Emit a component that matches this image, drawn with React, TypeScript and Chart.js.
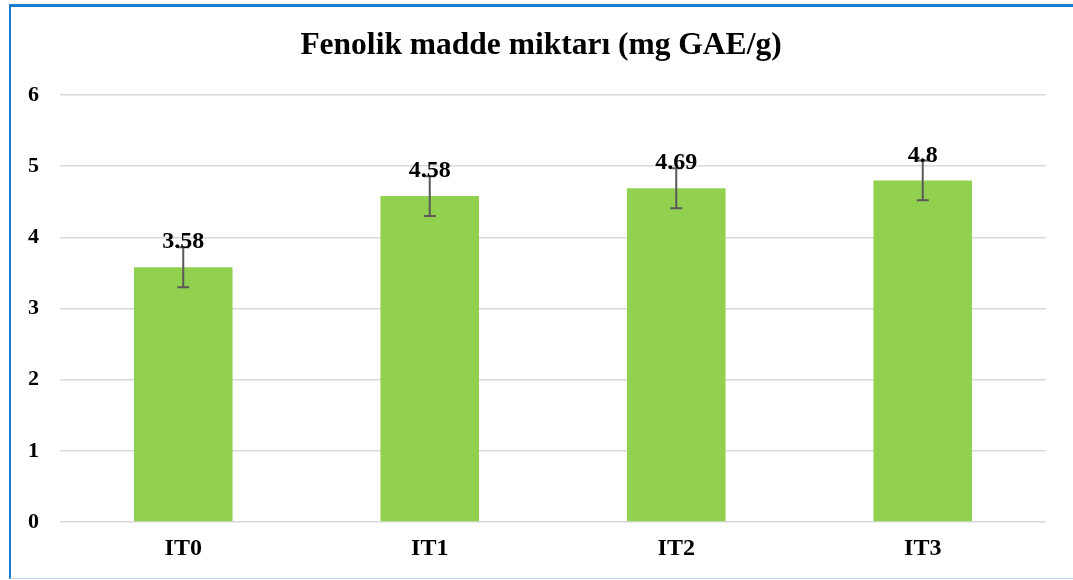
import React, { useEffect, useRef } from "react";
import { Chart, registerables } from "chart.js";

Chart.register(...registerables);

const categories = ["IT0", "IT1", "IT2", "IT3"];
const values = [3.58, 4.58, 4.69, 4.8];
const errors = [0.28, 0.28, 0.28, 0.28];
const valueLabels = ["3.58", "4.58", "4.69", "4.8"];
const yTicks = [0, 1, 2, 3, 4, 5, 6];
const title = "Fenolik madde miktarı (mg GAE/g)";

const FONT = "'Liberation Serif', 'Times New Roman', serif";

const overlayPlugin = {
  id: "overlay",
  afterDatasetsDraw(chart: any) {
    const ctx = chart.ctx;
    const meta = chart.getDatasetMeta(0);
    const y = chart.scales.y;
    ctx.save();
    meta.data.forEach((bar: any, i: number) => {
      const x = bar.x;
      const top = y.getPixelForValue(values[i] + errors[i]);
      const bot = y.getPixelForValue(values[i] - errors[i]);
      ctx.strokeStyle = "#595959";
      ctx.lineWidth = 2;
      ctx.beginPath();
      ctx.moveTo(x, top);
      ctx.lineTo(x, bot);
      ctx.moveTo(x - 6, top);
      ctx.lineTo(x + 6, top);
      ctx.moveTo(x - 6, bot);
      ctx.lineTo(x + 6, bot);
      ctx.stroke();
    });
    ctx.fillStyle = "#000";
    ctx.font = `bold 24px ${FONT}`;
    ctx.textAlign = "center";
    ctx.textBaseline = "middle";
    meta.data.forEach((bar: any, i: number) => {
      const py = y.getPixelForValue(values[i]);
      ctx.fillText(valueLabels[i], bar.x, py - 25);
    });
    // title, centred on the full frame
    ctx.font = `bold 31.5px ${FONT}`;
    ctx.fillText(title, 541, 46);
    ctx.restore();
  },
};

export default function App() {
  const ref = useRef<HTMLCanvasElement>(null);
  useEffect(() => {
    if (!ref.current) return;
    const chart = new Chart(ref.current, {
      type: "bar",
      data: {
        labels: categories,
        datasets: [
          {
            data: values,
            backgroundColor: "#92D050",
            barPercentage: 0.4,
            categoryPercentage: 1,
          },
        ],
      },
      options: {
        animation: false,
        responsive: false,
        layout: { padding: { left: 0, right: 27, top: 95, bottom: 0 } },
        plugins: {
          legend: { display: false },
          tooltip: { enabled: false },
          title: { display: false },
        },
        scales: {
          x: {
            grid: { display: false, drawTicks: false },
            border: { display: false },
            ticks: {
              color: "#000",
              font: { family: FONT, size: 24, weight: "bold" },
              padding: 12,
            },
            afterFit(scale: any) {
              scale.height = 58;
            },
          },
          y: {
            min: 0,
            max: 6,
            afterBuildTicks(scale: any) {
              scale.ticks = yTicks.map((v) => ({ value: v }));
            },
            grid: { color: "#d9d9d9", lineWidth: 1.5, drawTicks: false },
            border: { display: false },
            ticks: {
              color: "#000",
              font: { family: FONT, size: 22, weight: "bold" },
              padding: 21,
            },
            afterFit(scale: any) {
              scale.width = 60;
            },
          },
        },
      },
      plugins: [overlayPlugin],
    });
    return () => chart.destroy();
  }, []);

  return (
    <div style={{ position: "absolute", left: 0, top: 0, width: 1073, height: 580, background: "#fff", overflow: "hidden" }}>
      <div
        style={{
          position: "absolute",
          left: 9,
          top: 4,
          width: 1080,
          height: 575,
          borderLeft: "2px solid #1C7CD5",
          borderTop: "3px solid #1C7CD5",
          borderBottom: "1px solid #BDD7EE",
          boxSizing: "border-box",
        }}
      />
      <canvas ref={ref} width={1073} height={580} style={{ position: "absolute", left: 0, top: 0 }} />
    </div>
  );
}
